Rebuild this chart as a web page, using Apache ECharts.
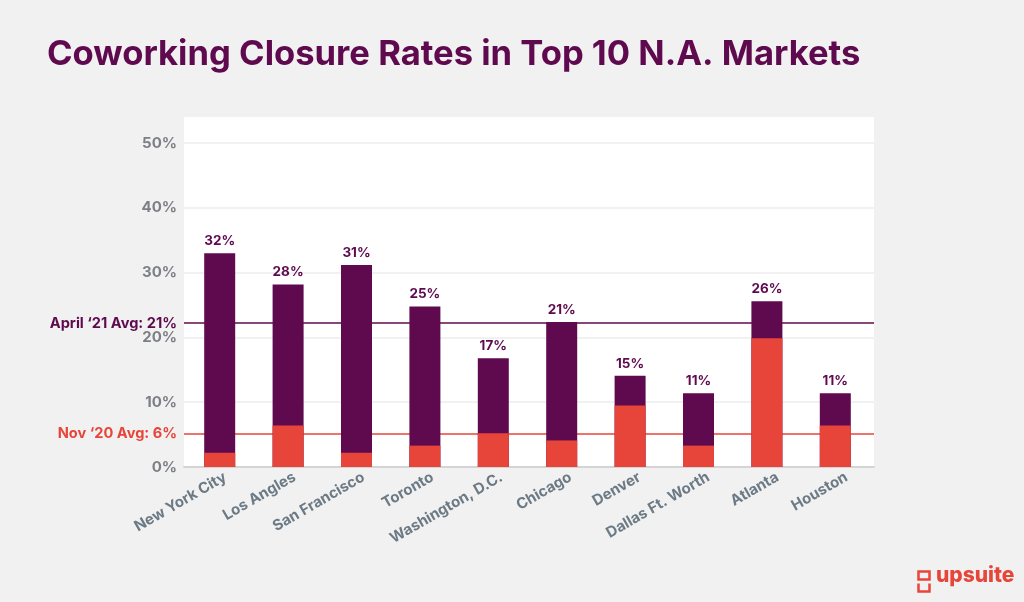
<!DOCTYPE html>
<html><head><meta charset="utf-8">
<style>html,body{margin:0;padding:0;background:#f1f1f1}#c{width:1024px;height:602px}</style>
<script src="https://cdn.jsdelivr.net/npm/echarts@6/dist/echarts.min.js"></script>
</head><body><div id="c"></div>
<script>
const categories=['New York City','Los Angles','San Francisco','Toronto','Washington, D.C.','Chicago','Denver','Dallas Ft. Worth','Atlanta','Houston'];
const april21=[33,28.2,31.2,24.8,16.8,22.4,14.1,11.4,25.6,11.4];
const nov20=[2.2,6.4,2.2,3.3,5.2,4.1,9.5,3.3,19.9,6.4];
const barLabels=['32%','28%','31%','25%','17%','21%','15%','11%','26%','11%'];
const aprilAvg=22.2, novAvg=5.1;
const aprilAvgLabel='April ‘21 Avg: 21%', novAvgLabel='Nov ‘20 Avg: 6%';
const PURPLE='#5f0a4f',RED='#e8453a',FONT='Inter, "Open Sans", sans-serif';
const chart=echarts.init(document.getElementById('c'),null,{renderer:'canvas'});
const yMax=54.2;
function avgLine(v,text,color){return {silent:true,symbol:'none',z:1,animation:false,
  data:[{yAxis:v,label:{formatter:text,position:'start',distance:7,color:color,fontFamily:FONT,fontWeight:700,fontSize:14.6},
  lineStyle:{color:color,width:1.5,type:'solid'}}]};}
chart.setOption({
  animation:false,backgroundColor:'#f1f1f1',
  title:{text:'Coworking Closure Rates in Top 10 N.A. Markets',left:42,top:32,
    textStyle:{color:PURPLE,fontFamily:FONT,fontWeight:700,fontSize:34.6}},
  grid:[
    {left:184,width:690,top:116,height:351,show:true,backgroundColor:'#fff',borderWidth:0},
    {left:185.5,width:684,top:116,height:351}
  ],
  xAxis:[
    {gridIndex:0,type:'category',data:categories,axisLine:{show:true,lineStyle:{color:'#d4d4d4',width:2}},axisTick:{show:false},
     axisLabel:{interval:0,rotate:30,margin:13,padding:[0,-8,0,0],color:'#6c7a85',fontFamily:FONT,fontWeight:700,fontSize:15}},
    {gridIndex:1,type:'category',data:categories,axisLine:{show:false},axisTick:{show:false},axisLabel:{show:false}}
  ],
  yAxis:[
    {gridIndex:0,type:'value',min:0,max:yMax,interval:10,axisLine:{show:false},axisTick:{show:false},
     splitLine:{lineStyle:{color:'#f1f1f1',width:2}},
     axisLabel:{showMaxLabel:false,margin:7,formatter:'{value}%',color:'#7c7f84',fontFamily:FONT,fontWeight:700,fontSize:15}},
    {gridIndex:1,type:'value',min:0,max:yMax,interval:10,show:false,splitLine:{show:false}}
  ],
  series:[
    {type:'line',xAxisIndex:0,yAxisIndex:0,data:[],z:1,markLine:avgLine(aprilAvg,aprilAvgLabel,PURPLE)},
    {type:'line',xAxisIndex:0,yAxisIndex:0,data:[],z:1,markLine:avgLine(novAvg,novAvgLabel,RED)},
    {type:'bar',xAxisIndex:1,yAxisIndex:1,data:april21,barWidth:31,barGap:'-100%',z:3,itemStyle:{color:PURPLE},
     label:{show:true,position:'top',distance:5,formatter:p=>barLabels[p.dataIndex],color:PURPLE,fontFamily:FONT,fontWeight:700,fontSize:13.5}},
    {type:'bar',xAxisIndex:1,yAxisIndex:1,data:nov20,barWidth:31,barGap:'-100%',z:4,itemStyle:{color:RED}}
  ],
  graphic:[
    {type:'text',left:936,top:565,z:10,style:{text:'upsuite',fill:RED,font:'800 21px '+FONT}},
    {type:'group',left:916,top:569,z:10,children:[
      {type:'rect',shape:{x:0,y:0,width:11,height:8},style:{fill:'none',stroke:RED,lineWidth:2.5}},
      {type:'polyline',shape:{points:[[0,12],[0,20],[11,20],[11,12]]},style:{fill:'none',stroke:RED,lineWidth:2.5}}
    ]}
  ]
});
</script></body></html>
